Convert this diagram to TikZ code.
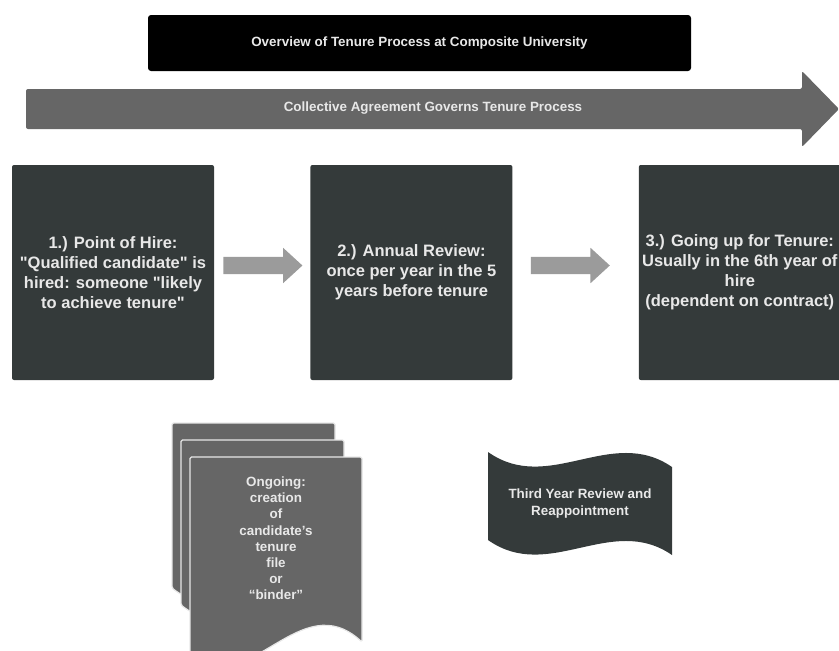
\documentclass[tikz,border=0pt]{standalone}
\usepackage{fontspec}
\setmainfont{Liberation Sans}[Ligatures=TeXOff]
\usepackage{tikz}
\usetikzlibrary{shapes.arrows,positioning,calc}

\definecolor{slate}{HTML}{343A3A}
\definecolor{midgray}{HTML}{666666}
\definecolor{stepgray}{HTML}{9B9B9B}
\definecolor{paper}{HTML}{E8E8E8}

\tikzset{
  stage/.style={fill=slate, rounded corners=2pt, minimum width=202pt,
    minimum height=215pt, inner sep=0pt, align=center, text=paper,
    font=\fontsize{16.5}{20}\selectfont\bfseries},
  smalltxt/.style={text=paper, align=center,
    font=\fontsize{13.4}{16.2}\selectfont\bfseries},
  stepper/.style={single arrow, fill=stepgray, minimum height=79pt,
    minimum width=35pt, single arrow head extend=9pt,
    single arrow tip angle=85, inner xsep=0pt, inner ysep=8.5pt},
  sheet/.style={fill=midgray, draw=paper, line width=1.2pt, rounded corners=1.5pt}
}

\begin{document}
\begin{tikzpicture}[x=1pt,y=-1pt]
\useasboundingbox (0,0) rectangle (839,651);

\node[fill=black, rounded corners=3pt, minimum width=543pt, minimum height=56pt, smalltxt] (title) at (419.5,43) {Overview of Tenure Process at Composite University};

\fill[midgray, rounded corners=2pt] (26,89) -- (802,89) -- (802,71) -- (839,109) -- (802,147) -- (802,129) -- (26,129) -- cycle;
\node[smalltxt] (agreement) at (433,108.5) {Collective Agreement Governs Tenure Process};

\node[stage] (hire) at (113,272.5) {1.) Point of Hire:\\"Qualified candidate" is\\hired: someone "likely\\to achieve tenure"};
\node[stage, right=96pt of hire] (review) {2.) Annual Review:\\once per year in the 5\\years before tenure};
\node[stage, right=126pt of review] (tenure) {3.) Going up for Tenure:\\Usually in the 6th year of\\hire\\(dependent on contract)};

\node[stepper, right=9pt of hire, yshift=7pt] (step1) {};
\node[stepper, right=18pt of review, yshift=7pt] (step2) {};

% stacked documents
\filldraw[sheet] (172,423) -- (335,423) -- (335,583) .. controls (276,528) and (229,633) .. (172,588) -- cycle;
\filldraw[sheet] (181,440) -- (344,440) -- (344,600) .. controls (285,545) and (238,650) .. (181,605) -- cycle;
\filldraw[sheet] (190,457) -- (362,457) -- (362,642) .. controls (300,585) and (250,700) .. (190,655) -- cycle;
\node[smalltxt] (binder) at (276,538.5) {Ongoing:\\creation\\of\\candidate’s\\tenure\\file\\or\\“binder”};

% wavy banner
\fill[slate] (488,452) .. controls (549,495) and (611,425) .. (672,467) -- (672,555) .. controls (611,513) and (549,583) .. (488,540) -- cycle;
\node[smalltxt] (thirdyear) at (580,503.5) {Third Year Review and\\Reappointment};
\end{tikzpicture}
\end{document}
